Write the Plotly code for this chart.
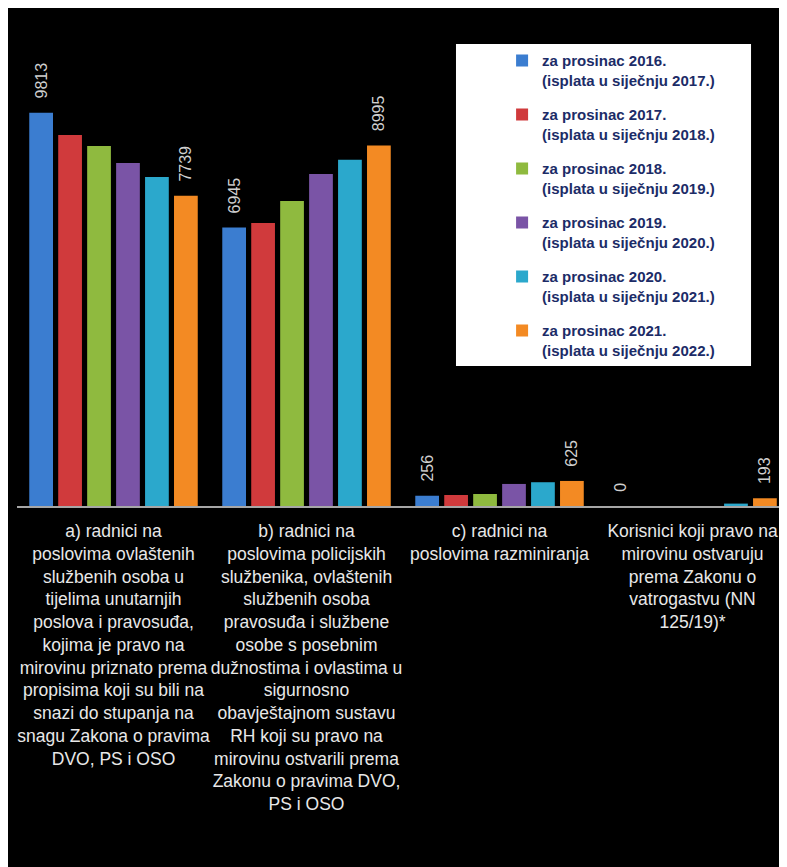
import plotly.graph_objects as go

categories = [
    "a) radnici na<br>poslovima ovlaštenih<br>službenih osoba u<br>tijelima unutarnjih<br>"
    "poslova i pravosuđa,<br>kojima je pravo na<br>mirovinu priznato prema<br>"
    "propisima koji su bili na<br>snazi do stupanja na<br>snagu Zakona o pravima<br>DVO, PS i OSO",
    "b) radnici na<br>poslovima policijskih<br>službenika, ovlaštenih<br>službenih osoba<br>"
    "pravosuđa i službene<br>osobe s posebnim<br>dužnostima i ovlastima u<br>sigurnosno<br>"
    "obavještajnom sustavu<br>RH koji su pravo na<br>mirovinu ostvarili prema<br>"
    "Zakonu o pravima DVO,<br>PS i OSO",
    "c) radnici na<br>poslovima razminiranja",
    "Korisnici koji pravo na<br>mirovinu ostvaruju<br>prema Zakonu o<br>vatrogastvu (NN<br>125/19)*",
]

series_names = [
    "za prosinac 2016.<br>(isplata u siječnju 2017.)",
    "za prosinac 2017.<br>(isplata u siječnju 2018.)",
    "za prosinac 2018.<br>(isplata u siječnju 2019.)",
    "za prosinac 2019.<br>(isplata u siječnju 2020.)",
    "za prosinac 2020.<br>(isplata u siječnju 2021.)",
    "za prosinac 2021.<br>(isplata u siječnju 2022.)",
]

dec_2016 = [9813, 6945, 256, 0]
dec_2017 = [9254, 7059, 275, 0]
dec_2018 = [8980, 7608, 300, 0]
dec_2019 = [8556, 8281, 550, 0]
dec_2020 = [8207, 8641, 593, 60]
dec_2021 = [7739, 8995, 625, 193]

series_values = [dec_2016, dec_2017, dec_2018, dec_2019, dec_2020, dec_2021]
colors = ["#3b7dd0", "#d03a3c", "#8fba3f", "#7a54a6", "#2ba8cc", "#f38a23"]
labelled = [True, False, False, False, False, True]

fig = go.Figure()

for name, values, color, show_text in zip(series_names, series_values, colors, labelled):
    fig.add_trace(
        go.Bar(
            x=categories,
            y=values,
            name=name,
            legendgroup=name,
            marker=dict(color=color, line=dict(width=0)),
            texttemplate="\u2002\u2009%{y:.0f}" if show_text else None,
            textposition="outside" if show_text else "none",
            textangle=-90,
            constraintext="none",
            textfont=dict(family="Liberation Sans", size=16, color="#d0d0d0"),
            cliponaxis=False,
        )
    )

fig.update_layout(
    width=771,
    height=859,
    margin=dict(l=9, r=0, t=17, b=361),
    paper_bgcolor="black",
    plot_bgcolor="black",
    barmode="group",
    bargap=0.1,
    bargroupgap=0.18,
    font=dict(family="Liberation Sans", color="#e8e8e8"),
    legend=dict(
        x=0.6366,
        y=0.96,
        xanchor="left",
        yanchor="top",
        bgcolor="rgba(0,0,0,0)",
        valign="top",
        tracegroupgap=12,
        font=dict(family="Liberation Sans", size=15, color="#1c2c67", weight="bold"),
    ),
    xaxis=dict(
        range=[-0.5, 3.448],
        showline=True,
        linecolor="#a6a6a6",
        linewidth=2,
        showgrid=False,
        tickangle=0,
        ticklabelstandoff=8,
        tickfont=dict(family="Liberation Sans", size=17.5, color="#e8e8e8"),
    ),
    yaxis=dict(
        range=[0, 12000],
        visible=False,
        showgrid=False,
        zeroline=False,
    ),
    shapes=[
        # white legend box
        dict(type="rect", xref="paper", yref="paper",
             x0=0.5761, x1=0.9633, y0=0.2911, y1=0.9605,
             fillcolor="white", line=dict(width=0), layer="above"),
    ],
)

fig.write_html("out.html")
